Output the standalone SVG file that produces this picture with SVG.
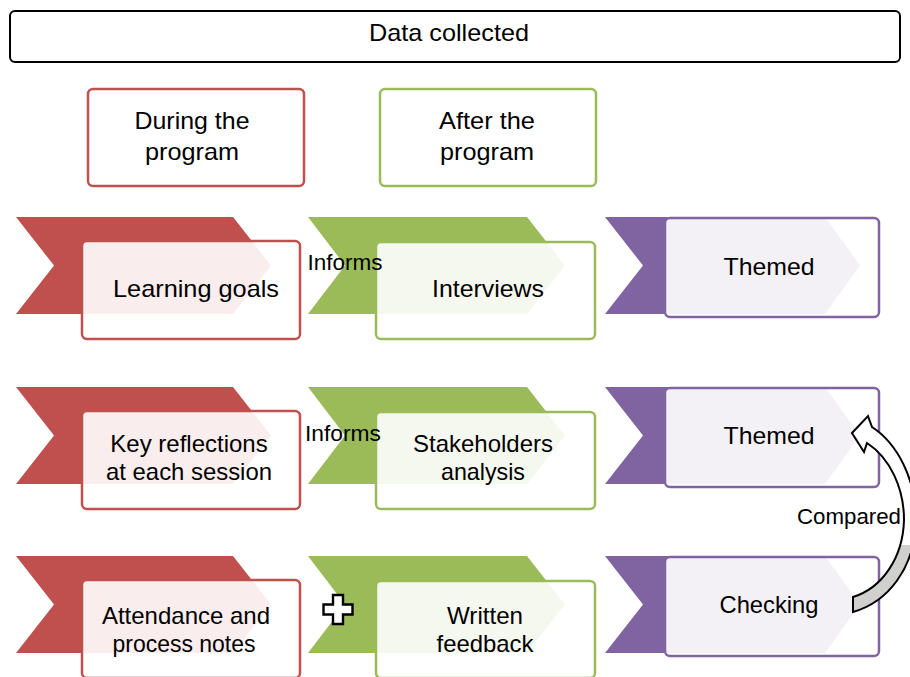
<svg xmlns="http://www.w3.org/2000/svg" width="910" height="677" viewBox="0 0 910 677">
<style>
text{font-family:"Liberation Sans",Arial,sans-serif;fill:#000;text-anchor:middle}
.t{font-size:24px}
.s{font-size:22px}
.red{fill:#C0504D}
.green{fill:#9BBB59}
.purple{fill:#8064A2}
.ov{fill:#fff;fill-opacity:0.9;stroke-width:2.5}
.ovr{stroke:#C0504D}
.ovg{stroke:#9BBB59}
.ovp{stroke:#8064A2}
</style>
<defs>
<polygon id="chevR" points="16,217 233,217 271,265.5 233,314 16,314 54,265.5"/>
<polygon id="chevG" points="308,217 527,217 565,265.5 527,314 308,314 345,265.5"/>
<polygon id="chevP" points="605,217 825,217 860,265.5 825,314 605,314 643,265.5"/>
<path id="arc" d="M852,433 L868,416 L872,427 C898,444 916,480 916,520 C915,568 888,602 853,612 L853,597 C882,588 903,558 904,520 C904,488 890,458 867,443 L864,452 Z"/>
<clipPath id="topPart"><rect x="800" y="400" width="140" height="145"/></clipPath>
</defs>
<g id="header">
<rect x="10" y="11" width="890" height="51" rx="5" fill="#fff" stroke="#000" stroke-width="2"/>
<text class="t" x="449" y="41" textLength="160" lengthAdjust="spacingAndGlyphs">Data collected</text>
</g>
<g id="during">
<rect x="88" y="89" width="216" height="97" rx="5" fill="#fff" stroke="#C0504D" stroke-width="2.5"/>
<text class="t" x="192" y="129" textLength="115" lengthAdjust="spacingAndGlyphs">During the</text>
<text class="t" x="192" y="160" textLength="94" lengthAdjust="spacingAndGlyphs">program</text>
</g>
<g id="after">
<rect x="380" y="89" width="216" height="97" rx="5" fill="#fff" stroke="#9BBB59" stroke-width="2.5"/>
<text class="t" x="487" y="129" textLength="96" lengthAdjust="spacingAndGlyphs">After the</text>
<text class="t" x="487" y="160" textLength="94" lengthAdjust="spacingAndGlyphs">program</text>
</g>
<!-- Row 1 -->
<g id="learning-goals">
<use href="#chevR" class="red"/>
<rect x="82" y="241" width="218" height="98" rx="5" class="ov ovr"/>
<text class="t" x="196" y="297" textLength="166" lengthAdjust="spacingAndGlyphs">Learning goals</text>
</g>
<g id="interviews">
<use href="#chevG" class="green"/>
<rect x="376" y="242" width="219" height="97" rx="5" class="ov ovg"/>
<text class="t" x="488" y="297" textLength="112" lengthAdjust="spacingAndGlyphs">Interviews</text>
</g>
<g id="themed-1">
<use href="#chevP" class="purple"/>
<rect x="665" y="218" width="214" height="99" rx="5" class="ov ovp"/>
<text class="t" x="769" y="275" textLength="91" lengthAdjust="spacingAndGlyphs">Themed</text>
</g>
<!-- Row 2 -->
<g id="key-reflections">
<use href="#chevR" class="red" y="170"/>
<rect x="82" y="411" width="218" height="98" rx="5" class="ov ovr"/>
<text class="t" x="189" y="452">Key reflections</text>
<text class="t" x="189" y="480" textLength="166" lengthAdjust="spacingAndGlyphs">at each session</text>
</g>
<g id="stakeholders">
<use href="#chevG" class="green" y="170"/>
<rect x="376" y="412" width="219" height="97" rx="5" class="ov ovg"/>
<text class="t" x="483" y="452" textLength="140" lengthAdjust="spacingAndGlyphs">Stakeholders</text>
<text class="t" x="483" y="480" textLength="84" lengthAdjust="spacingAndGlyphs">analysis</text>
</g>
<g id="themed-2">
<use href="#chevP" class="purple" y="170"/>
<rect x="665" y="388" width="214" height="99" rx="5" class="ov ovp"/>
<text class="t" x="769" y="444" textLength="91" lengthAdjust="spacingAndGlyphs">Themed</text>
</g>
<!-- Row 3 -->
<g id="attendance">
<use href="#chevR" class="red" y="339"/>
<rect x="82" y="580" width="218" height="98" rx="5" class="ov ovr"/>
<text class="t" x="186" y="624">Attendance and</text>
<text class="t" x="184" y="652" textLength="143" lengthAdjust="spacingAndGlyphs">process notes</text>
</g>
<g id="written-feedback">
<use href="#chevG" class="green" y="339"/>
<rect x="376" y="581" width="219" height="97" rx="5" class="ov ovg"/>
<text class="t" x="485" y="624" textLength="76" lengthAdjust="spacingAndGlyphs">Written</text>
<text class="t" x="485" y="652" textLength="97" lengthAdjust="spacingAndGlyphs">feedback</text>
</g>
<g id="checking">
<use href="#chevP" class="purple" y="339"/>
<rect x="665" y="557" width="214" height="99" rx="5" class="ov ovp"/>
<text class="t" x="769" y="613" textLength="99" lengthAdjust="spacingAndGlyphs">Checking</text>
</g>
<g id="connectors">
<text class="s" x="345" y="270" textLength="75" lengthAdjust="spacingAndGlyphs">Informs</text>
<text class="s" x="343" y="441" textLength="76" lengthAdjust="spacingAndGlyphs">Informs</text>
<g id="plus">
<path d="M333,595 h10 v9.5 h9.5 v10 h-9.5 v9.5 h-10 v-9.5 h-9.5 v-10 h9.5 z" fill="#fff" stroke="#000" stroke-width="2.4" stroke-linejoin="miter"/>
</g>
<g id="compared-arrow">
<use href="#arc" fill="#D0D0CE"/>
<use href="#arc" fill="#fff" clip-path="url(#topPart)"/>
<use href="#arc" fill="none" stroke="#000" stroke-width="2" stroke-linejoin="miter"/>
</g>
<text class="s" x="849" y="524" textLength="104" lengthAdjust="spacingAndGlyphs">Compared</text>
</g>
</svg>
